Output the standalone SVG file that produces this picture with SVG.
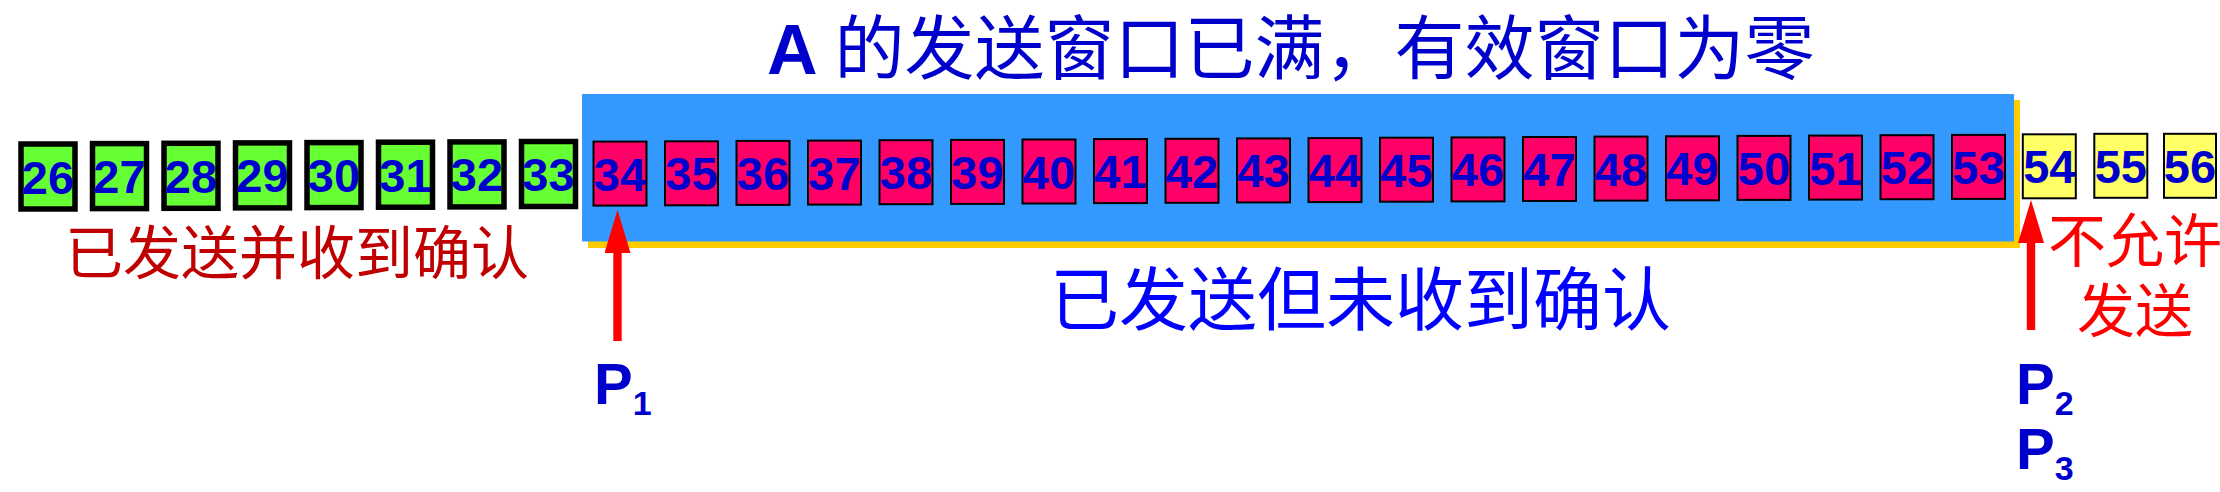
<svg xmlns="http://www.w3.org/2000/svg" width="2220" height="492" viewBox="0 0 2220 492">
<style>
  .num { font-family: "Liberation Sans", Arial, sans-serif; font-weight: bold; font-size: 47px; fill: #0000CC; text-anchor: middle; }
  .ack rect { fill: #66FF33; stroke: #000000; stroke-width: 5.5; }
  .sent rect { fill: #FF0066; stroke: #000000; stroke-width: 2; }
  .nosend rect { fill: #FFFF66; stroke: #000000; stroke-width: 2; }
  .cjk { font-family: "Liberation Sans", "Noto Sans CJK SC", sans-serif; }
  .plabel { font-family: "Liberation Sans", Arial, sans-serif; font-weight: bold; font-size: 58px; fill: #0000CC; }
  .sub { font-size: 34px; }
  .arrow { stroke: #FF0000; stroke-width: 8.4; fill: none; marker-end: url(#head); }
</style>
<defs>
  <marker id="head" markerUnits="userSpaceOnUse" viewBox="0 0 43 26" markerWidth="43" markerHeight="26" refX="0" refY="13" orient="auto">
    <path d="M0,0 L43,13 L0,26 Z" fill="#FF0000"/>
  </marker>
</defs>
<rect width="2220" height="492" fill="#FFFFFF"/>

<g id="title">
  <text class="cjk" x="767" y="74" fill="#0000CC" font-size="70"><tspan font-weight="bold">A </tspan>的发送窗口已满，有效窗口为零</text>
</g>

<g id="window">
  <rect x="588" y="100" width="1432" height="148" fill="#FFCC00"/>
  <rect x="582" y="94" width="1432" height="147.5" fill="#3399FF"/>
</g>

<g id="n26" class="ack" transform="translate(48,176.5)"><rect x="-27" y="-32.5" width="54" height="65"/><text class="num" y="17">26</text></g>
<g id="n27" class="ack" transform="translate(119.5,176.1)"><rect x="-27" y="-32.5" width="54" height="65"/><text class="num" y="17">27</text></g>
<g id="n28" class="ack" transform="translate(191,175.8)"><rect x="-27" y="-32.5" width="54" height="65"/><text class="num" y="17">28</text></g>
<g id="n29" class="ack" transform="translate(262.5,175.4)"><rect x="-27" y="-32.5" width="54" height="65"/><text class="num" y="17">29</text></g>
<g id="n30" class="ack" transform="translate(334,175.1)"><rect x="-27" y="-32.5" width="54" height="65"/><text class="num" y="17">30</text></g>
<g id="n31" class="ack" transform="translate(405.5,174.7)"><rect x="-27" y="-32.5" width="54" height="65"/><text class="num" y="17">31</text></g>
<g id="n32" class="ack" transform="translate(477,174.4)"><rect x="-27" y="-32.5" width="54" height="65"/><text class="num" y="17">32</text></g>
<g id="n33" class="ack" transform="translate(548.5,174)"><rect x="-27" y="-32.5" width="54" height="65"/><text class="num" y="17">33</text></g>

<g id="n34" class="sent" transform="translate(620,173.6)"><rect x="-26.5" y="-32" width="53" height="64"/><text class="num" y="17">34</text></g>
<g id="n35" class="sent" transform="translate(691.5,173.3)"><rect x="-26.5" y="-32" width="53" height="64"/><text class="num" y="17">35</text></g>
<g id="n36" class="sent" transform="translate(763,172.9)"><rect x="-26.5" y="-32" width="53" height="64"/><text class="num" y="17">36</text></g>
<g id="n37" class="sent" transform="translate(834.5,172.6)"><rect x="-26.5" y="-32" width="53" height="64"/><text class="num" y="17">37</text></g>
<g id="n38" class="sent" transform="translate(906,172.2)"><rect x="-26.5" y="-32" width="53" height="64"/><text class="num" y="17">38</text></g>
<g id="n39" class="sent" transform="translate(977.5,171.9)"><rect x="-26.5" y="-32" width="53" height="64"/><text class="num" y="17">39</text></g>
<g id="n40" class="sent" transform="translate(1049,171.5)"><rect x="-26.5" y="-32" width="53" height="64"/><text class="num" y="17">40</text></g>
<g id="n41" class="sent" transform="translate(1120.5,171.1)"><rect x="-26.5" y="-32" width="53" height="64"/><text class="num" y="17">41</text></g>
<g id="n42" class="sent" transform="translate(1192,170.8)"><rect x="-26.5" y="-32" width="53" height="64"/><text class="num" y="17">42</text></g>
<g id="n43" class="sent" transform="translate(1263.5,170.4)"><rect x="-26.5" y="-32" width="53" height="64"/><text class="num" y="17">43</text></g>
<g id="n44" class="sent" transform="translate(1335,170.1)"><rect x="-26.5" y="-32" width="53" height="64"/><text class="num" y="17">44</text></g>
<g id="n45" class="sent" transform="translate(1406.5,169.7)"><rect x="-26.5" y="-32" width="53" height="64"/><text class="num" y="17">45</text></g>
<g id="n46" class="sent" transform="translate(1478,169.4)"><rect x="-26.5" y="-32" width="53" height="64"/><text class="num" y="17">46</text></g>
<g id="n47" class="sent" transform="translate(1549.5,169)"><rect x="-26.5" y="-32" width="53" height="64"/><text class="num" y="17">47</text></g>
<g id="n48" class="sent" transform="translate(1621,168.6)"><rect x="-26.5" y="-32" width="53" height="64"/><text class="num" y="17">48</text></g>
<g id="n49" class="sent" transform="translate(1692.5,168.3)"><rect x="-26.5" y="-32" width="53" height="64"/><text class="num" y="17">49</text></g>
<g id="n50" class="sent" transform="translate(1764,167.9)"><rect x="-26.5" y="-32" width="53" height="64"/><text class="num" y="17">50</text></g>
<g id="n51" class="sent" transform="translate(1835.5,167.6)"><rect x="-26.5" y="-32" width="53" height="64"/><text class="num" y="17">51</text></g>
<g id="n52" class="sent" transform="translate(1907,167.2)"><rect x="-26.5" y="-32" width="53" height="64"/><text class="num" y="17">52</text></g>
<g id="n53" class="sent" transform="translate(1978.5,166.9)"><rect x="-26.5" y="-32" width="53" height="64"/><text class="num" y="17">53</text></g>

<g id="n54" class="nosend" transform="translate(2049.3,166.3)"><rect x="-26.5" y="-32" width="53" height="64"/><text class="num" y="17">54</text></g>
<g id="n55" class="nosend" transform="translate(2120.8,165.8)"><rect x="-26.5" y="-32" width="53" height="64"/><text class="num" y="17">55</text></g>
<g id="n56" class="nosend" transform="translate(2190,165.8)"><rect x="-26" y="-32" width="52" height="64"/><text class="num" y="17">56</text></g>

<g id="label-acked">
  <text class="cjk" x="65" y="274" fill="#C00000" font-size="58">已发送并收到确认</text>
</g>
<g id="label-unacked">
  <text class="cjk" x="1050" y="325" fill="#0000FF" font-size="69">已发送但未收到确认</text>
</g>
<g id="label-notallowed">
  <text class="cjk" fill="#FF0000" font-size="58" text-anchor="middle"><tspan x="2135" y="262">不允许</tspan><tspan x="2135" y="332">发送</tspan></text>
</g>

<g id="connectors">
  <line class="arrow" x1="617.5" y1="341" x2="617.5" y2="253"/>
  <line class="arrow" x1="2031" y1="330" x2="2031" y2="243"/>
</g>

<g id="p1">
  <text class="plabel" x="594" y="404">P<tspan class="sub" dy="11">1</tspan></text>
</g>
<g id="p2">
  <text class="plabel" x="2016" y="404">P<tspan class="sub" dy="11">2</tspan></text>
</g>
<g id="p3">
  <text class="plabel" x="2016" y="469">P<tspan class="sub" dy="11">3</tspan></text>
</g>
</svg>
